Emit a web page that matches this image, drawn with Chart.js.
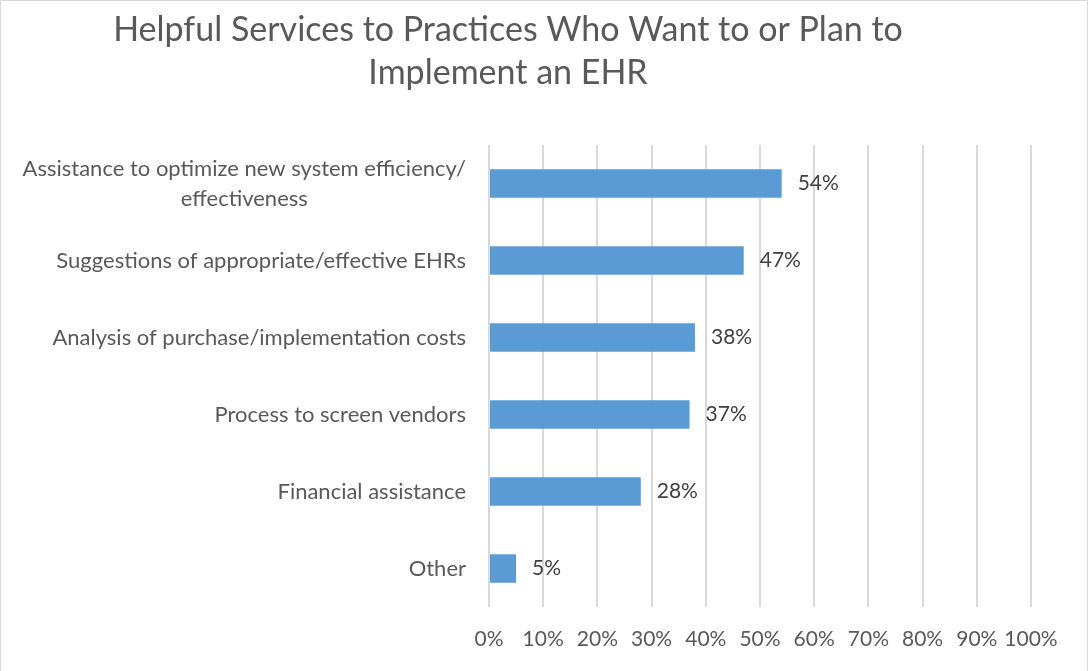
<!DOCTYPE html>
<html>
<head>
<meta charset="utf-8">
<title>Helpful Services to Practices</title>
<script src="https://cdn.jsdelivr.net/npm/chart.js@4.4.1/dist/chart.umd.min.js"></script>
<style>
  html, body { margin: 0; padding: 0; background: #fff; }
  #wrap { width: 1089px; height: 671px; }
</style>
</head>
<body>
<div id="wrap"><canvas id="servicesChart" width="1089" height="671"></canvas></div>
<script>
// survey answers, top to bottom
var titleLines = ['Helpful Services to Practices Who Want to or Plan to', 'Implement an EHR'];
var categories = [
    ['Assistance to optimize new system efficiency/', 'effectiveness'],
    'Suggestions of appropriate/effective EHRs',
    'Analysis of purchase/implementation costs',
    'Process to screen vendors',
    'Financial assistance',
    'Other'
];
var percents = [54, 47, 38, 37, 28, 5];
var xTicks = [0, 10, 20, 30, 40, 50, 60, 70, 80, 90, 100];

var FONT = 'Lato, "Open Sans", sans-serif';
var GREY_TEXT = '#595959';
var DARK_TEXT = '#404040';
var GRID = '#d9d9d9';
var BAR = '#5b9bd5';
var LABEL_RIGHT = 466;

// frame + title, drawn by hand so the title can sit off-centre like the original
var framePlugin = {
    id: 'frame',
    beforeDraw: function(chart) {
        var ctx = chart.ctx;
        ctx.save();
        ctx.fillStyle = '#fff';
        ctx.fillRect(0, 0, chart.width, chart.height);
        ctx.strokeStyle = GRID;
        ctx.lineWidth = 1;
        ctx.strokeRect(0.5, 0.5, chart.width - 2, chart.height + 10);
        ctx.restore();
    },
    afterDraw: function(chart) {
        var ctx = chart.ctx;
        ctx.save();
        ctx.fillStyle = GREY_TEXT;
        ctx.font = '34px ' + FONT;
        ctx.textAlign = 'center';
        ctx.textBaseline = 'middle';
        for (var i = 0; i < titleLines.length; i++) {
            ctx.fillText(titleLines[i], 508, 30 + i * 43);
        }
        ctx.restore();
    }
};

// category names: right aligned, wrapped lines centred on each other
var categoryLabels = {
    id: 'categoryLabels',
    afterDraw: function(chart) {
        var ctx = chart.ctx;
        var yScale = chart.scales.y;
        ctx.save();
        ctx.fillStyle = GREY_TEXT;
        ctx.font = '22px ' + FONT;
        ctx.textBaseline = 'middle';
        ctx.textAlign = 'center';
        chart.data.labels.forEach(function(label, i) {
            var lines = Array.isArray(label) ? label : [label];
            var widest = 0;
            lines.forEach(function(l) { widest = Math.max(widest, ctx.measureText(l).width); });
            var cx = LABEL_RIGHT - widest / 2;
            var yc = yScale.getPixelForValue(i);
            var step = 30;
            var y0 = yc - (lines.length - 1) * step / 2;
            lines.forEach(function(l, j) {
                ctx.fillText(l, cx, y0 + j * step);
            });
        });
        ctx.restore();
    }
};

// percentage next to each bar end
var valueLabels = {
    id: 'valueLabels',
    afterDatasetsDraw: function(chart) {
        var ctx = chart.ctx;
        var meta = chart.getDatasetMeta(0);
        ctx.save();
        ctx.fillStyle = DARK_TEXT;
        ctx.font = '21px ' + FONT;
        ctx.textAlign = 'left';
        ctx.textBaseline = 'middle';
        meta.data.forEach(function(bar, i) {
            ctx.fillText(chart.data.datasets[0].data[i] + '%', bar.x + 16, bar.y);
        });
        ctx.restore();
    }
};

var ctx = document.getElementById('servicesChart').getContext('2d');
var chart = new Chart(ctx, {
    type: 'bar',
    data: {
        labels: categories,
        datasets: [{
            data: percents,
            backgroundColor: BAR,
            borderWidth: 0,
            categoryPercentage: 0.37,
            barPercentage: 1
        }]
    },
    options: {
        indexAxis: 'y',
        responsive: false,
        animation: false,
        layout: { padding: { top: 145, right: 58, bottom: 0, left: 0 } },
        plugins: {
            legend: { display: false },
            title: { display: false },
            tooltip: { enabled: false }
        },
        scales: {
            x: {
                min: 0,
                max: 100,
                afterBuildTicks: function(scale) {
                    scale.ticks = xTicks.map(function(v) { return { value: v }; });
                },
                grid: { color: GRID, lineWidth: 2, drawTicks: false },
                border: { display: false },
                ticks: {
                    color: GREY_TEXT,
                    font: { family: FONT, size: 21, lineHeight: 0.76 },
                    padding: 24,
                    autoSkip: false,
                    maxRotation: 0,
                    callback: function(v) { return v + '%'; }
                }
            },
            y: {
                grid: { display: false },
                border: { display: false },
                ticks: { display: false },
                afterFit: function(scale) { scale.width = 489; }
            }
        }
    },
    plugins: [framePlugin, categoryLabels, valueLabels]
});
</script>
</body>
</html>
